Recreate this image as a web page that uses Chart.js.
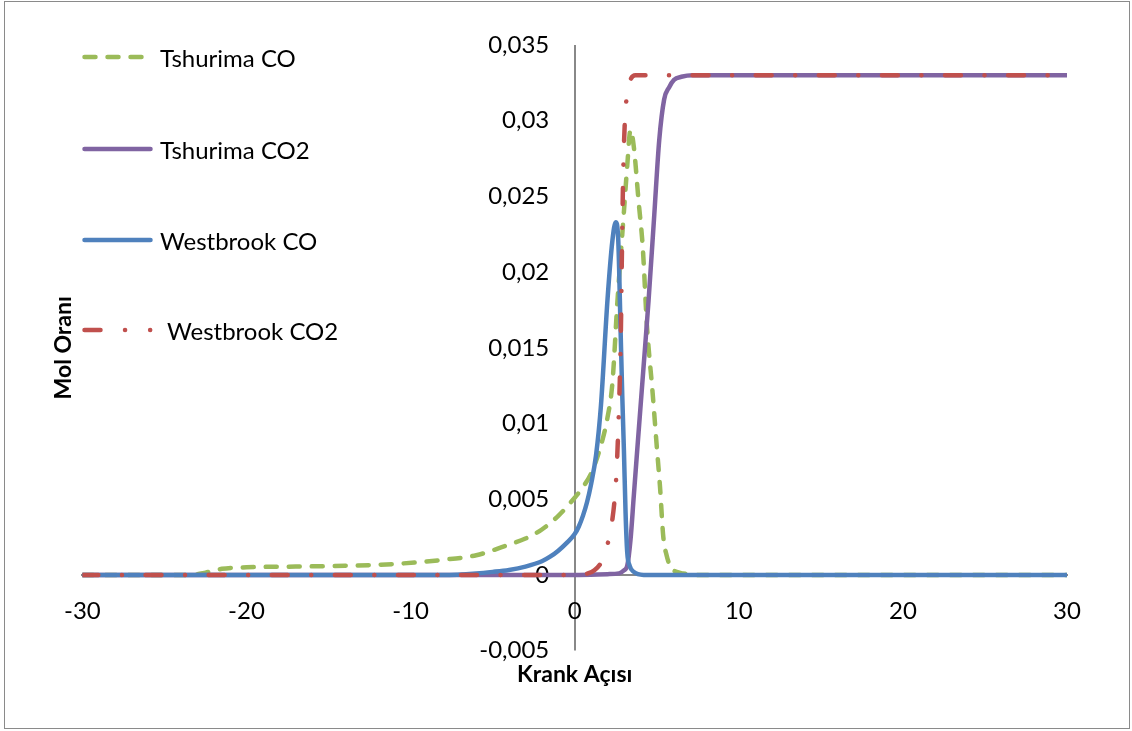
<!DOCTYPE html>
<html>
<head>
<meta charset="utf-8">
<script src="https://cdn.jsdelivr.net/npm/chart.js@4"></script>
<style>
  body { margin: 0; background: #fff; }
  #wrap { position: relative; width: 1132px; height: 731px; }
  #frame { position: absolute; left: 4px; top: 1px; width: 1124px; height: 726px;
           border: 1.5px solid #8a8a8a; pointer-events: none; }
  .leg { position: absolute; left: 82px; height: 30px; display: flex; align-items: center;
         font: 24px Lato, sans-serif; color: #000; white-space: nowrap; }
</style>
</head>
<body>
<div id="wrap">
  <canvas id="chart" width="1132" height="731"></canvas>
  <div id="legend"></div>
  <div id="frame"></div>
</div>
<script>
// Crank angle (deg) / mole fraction readings per series
const tCoX  = [-30, -23.5, -22.5, -21.5, -20, -17, -14, -11, -8, -6, -4, -3, -2, -1, 0, 0.5, 1, 1.5, 2, 2.3, 2.6, 3.0, 3.2, 3.4, 3.6, 3.9, 4.15, 4.4, 4.75, 5.0, 5.2, 5.4, 5.6, 5.85, 6.2, 6.6, 7.5, 30];
const tCoY  = [0, 0, 0.00015, 0.0004, 0.0005, 0.00055, 0.0006, 0.00072, 0.001, 0.0013, 0.002, 0.0024, 0.003, 0.0039, 0.0051, 0.0058, 0.0067, 0.0082, 0.0104, 0.0127, 0.018, 0.024, 0.027, 0.0294, 0.0283, 0.0246, 0.0216, 0.0165, 0.012, 0.0085, 0.0058, 0.0025, 0.0013, 0.0005, 0.0002, 0.0001, 0, 0];

const tCo2X = [-30, 0, 2.0, 2.7, 3.0, 3.2, 3.4, 3.6, 3.8, 4.2, 4.5, 4.85, 5.15, 5.45, 5.75, 6.05, 6.5, 7.2, 30];
const tCo2Y = [0, 0, 0.00005, 0.0001, 0.0003, 0.0006, 0.0023, 0.0052, 0.0081, 0.0138, 0.0181, 0.0238, 0.0287, 0.0314, 0.0322, 0.0327, 0.0329, 0.033, 0.033];

const wCoX  = [-30, -8, -6, -5, -4, -3, -2, -1.5, -1, -0.5, 0, 0.25, 0.5, 0.75, 1, 1.3, 1.6, 2.0, 2.3, 2.5, 2.65, 2.8, 2.9, 3.0, 3.1, 3.2, 3.35, 3.6, 4.2, 30];
const wCoY  = [0, 0, 0.0001, 0.0002, 0.00033, 0.00055, 0.0009, 0.0012, 0.0016, 0.0021, 0.0027, 0.0032, 0.0039, 0.0048, 0.006, 0.0079, 0.0112, 0.0182, 0.0221, 0.0233, 0.0222, 0.016, 0.0118, 0.0082, 0.0041, 0.0015, 0.0006, 0.0002, 0, 0];

const wCo2X = [-30, 0, 0.8, 1.2, 1.6, 1.9, 2.1, 2.3, 2.45, 2.55, 2.65, 2.75, 2.82, 2.88, 2.95, 3.05, 3.2, 3.4, 3.7, 30];
const wCo2Y = [0, 0, 0.0001, 0.0003, 0.0008, 0.0016, 0.0025, 0.0037, 0.0052, 0.0068, 0.0095, 0.0129, 0.0165, 0.0215, 0.0262, 0.0298, 0.0318, 0.0327, 0.033, 0.033];

const seriesNames = ['Tshurima CO', 'Tshurima CO2', 'Westbrook CO', 'Westbrook CO2'];

const xTickValues = [-30, -20, -10, 0, 10, 20, 30];
const xTickLabels = ['-30', '-20', '-10', '0', '10', '20', '30'];
const yTickValues = [-0.005, 0, 0.005, 0.01, 0.015, 0.02, 0.025, 0.03, 0.035];
const yTickLabels = ['-0,005', '0', '0,005', '0,01', '0,015', '0,02', '0,025', '0,03', '0,035'];

const xTitle = 'Krank Açısı';
const yTitle = 'Mol Oranı';

// line styles (colour, dash, legend sample dash)
const styles = [
  { color: '#9BBB59', dash: [11, 12],              legDash: '11 12' },
  { color: '#8064A2', dash: [],                    legDash: '' },
  { color: '#4F81BD', dash: [],                    legDash: '' },
  { color: '#C0504D', dash: [16, 23.5, 0.1, 23.5], legDash: '16 24.5 0.1 25 0.1 60' }
];
const legendCenters = [57, 149, 240, 330];
const legendGaps = [7, 7, 7, 14];

const axisGray = '#888888';
const yLabelAt = -1.55;   // y tick labels end a little left of the x = 0 axis line

const zip = (xs, ys) => xs.map((x, i) => ({ x, y: ys[i] }));
const seriesData = [zip(tCoX, tCoY), zip(tCo2X, tCo2Y), zip(wCoX, wCoY), zip(wCo2X, wCo2Y)];

const tickFont  = { family: 'Lato', size: 24 };
const titleFont = { family: 'Lato', size: 23, weight: 'bold' };

new Chart(document.getElementById('chart'), {
  type: 'line',
  data: {
    datasets: seriesData.map((d, i) => ({
      label: seriesNames[i],
      data: d,
      borderColor: styles[i].color,
      backgroundColor: styles[i].color,
      borderDash: styles[i].dash,
      borderCapStyle: 'round',
      borderJoinStyle: 'round',
      borderWidth: 4.5,
      pointRadius: 0,
      cubicInterpolationMode: 'monotone',
      order: 3 - i
    }))
  },
  options: {
    responsive: false,
    animation: false,
    layout: { padding: { left: 45.6, right: 65, top: 45, bottom: 38.6 } },
    plugins: { legend: { display: false }, tooltip: { enabled: false } },
    scales: {
      x: {
        type: 'linear', min: -30, max: 30, position: { y: 0 },
        afterBuildTicks: s => { s.ticks = xTickValues.map(v => ({ value: v })); },
        afterFit: s => { s.height = 0; },
        ticks: {
          callback: v => xTickLabels[xTickValues.indexOf(v)],
          font: tickFont, color: '#000', padding: 22, maxRotation: 0, autoSkip: false
        },
        // only the x = 0 grid line is shown: it is the vertical axis line
        grid: {
          drawTicks: false, lineWidth: 2,
          color: c => (c.tick && c.tick.value === 0 ? axisGray : 'rgba(0,0,0,0)')
        },
        border: { color: axisGray, width: 2 }
      },
      y: {
        type: 'linear', min: -0.005, max: 0.035, position: { x: yLabelAt },
        afterBuildTicks: s => { s.ticks = yTickValues.map(v => ({ value: v })); },
        afterFit: s => { s.width = 0; },
        ticks: {
          callback: v => yTickLabels[yTickValues.findIndex(t => Math.abs(t - v) < 1e-9)],
          font: tickFont, color: '#000', autoSkip: false
        },
        grid: { display: false, drawTicks: false },
        border: { display: false }
      },
      xName: {
        type: 'linear', position: 'bottom',
        ticks: { display: false }, grid: { display: false, drawTicks: false }, border: { display: false },
        title: { display: true, text: xTitle, font: titleFont, color: '#000', padding: { top: 10.2, bottom: 4 } }
      },
      yName: {
        type: 'linear', position: 'left',
        ticks: { display: false }, grid: { display: false, drawTicks: false }, border: { display: false },
        title: { display: true, text: yTitle, font: titleFont, color: '#000', padding: { top: 4, bottom: 5.2 } }
      }
    }
  }
});

// legend: line sample + name, laid over the plot on the left
const legend = document.getElementById('legend');
seriesNames.forEach((name, i) => {
  const row = document.createElement('div');
  row.className = 'leg';
  row.style.top = (legendCenters[i] - 15) + 'px';
  row.innerHTML =
    `<svg width="71" height="10" style="margin-right:${legendGaps[i]}px">` +
    `<line x1="2.5" y1="5" x2="68.5" y2="5" stroke="${styles[i].color}" stroke-width="4.5" ` +
    `stroke-linecap="round" stroke-dasharray="${styles[i].legDash}"/></svg><span>${name}</span>`;
  legend.appendChild(row);
});
</script>
</body>
</html>
